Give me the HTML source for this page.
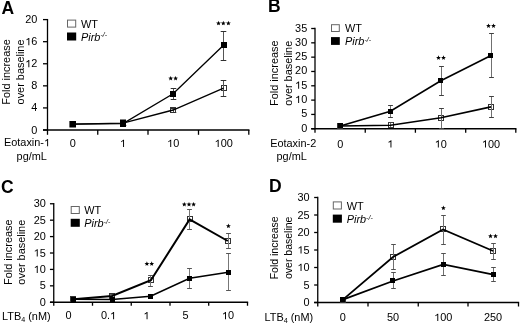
<!DOCTYPE html>
<html><head><meta charset="utf-8"><style>
html,body{margin:0;padding:0;background:#fff;}
body{width:520px;height:325px;overflow:hidden;}
svg{display:block;filter:blur(0.3px);font-family:"Liberation Sans",sans-serif;fill:#000;}
</style></head><body>
<svg width="520" height="325" viewBox="0 0 520 325">
<rect width="520" height="325" fill="#fff"/>
<line x1="47.5" y1="18.950000000000003" x2="47.5" y2="134.8" stroke="#000" stroke-width="1.3" stroke-linecap="butt"/>
<line x1="43.0" y1="130" x2="249.45000000000002" y2="130" stroke="#000" stroke-width="1.3" stroke-linecap="butt"/>
<line x1="43.0" y1="130.0" x2="47.5" y2="130.0" stroke="#000" stroke-width="1.3" stroke-linecap="butt"/>
<text transform="matrix(1.03,0,0,1,31.33,133.5)" font-size="10.6" >0</text>
<line x1="43.0" y1="107.92" x2="47.5" y2="107.92" stroke="#000" stroke-width="1.3" stroke-linecap="butt"/>
<text transform="matrix(1.03,0,0,1,31.33,111.42)" font-size="10.6" >4</text>
<line x1="43.0" y1="85.84" x2="47.5" y2="85.84" stroke="#000" stroke-width="1.3" stroke-linecap="butt"/>
<text transform="matrix(1.03,0,0,1,31.33,89.34)" font-size="10.6" >8</text>
<line x1="43.0" y1="63.760000000000005" x2="47.5" y2="63.760000000000005" stroke="#000" stroke-width="1.3" stroke-linecap="butt"/>
<text transform="matrix(1.03,0,0,1,25.26,67.26)" font-size="10.6" > 2</text>
<polygon points="29.32,67.26 28.36,67.26 28.36,61.32 27.60,61.88 26.44,62.41 26.44,61.50 27.49,60.89 28.24,60.30 28.73,59.97 29.32,59.97" fill="#000"/>
<line x1="43.0" y1="41.68000000000001" x2="47.5" y2="41.68000000000001" stroke="#000" stroke-width="1.3" stroke-linecap="butt"/>
<text transform="matrix(1.03,0,0,1,25.26,45.18000000000001)" font-size="10.6" > 6</text>
<polygon points="29.32,45.18 28.36,45.18 28.36,39.24 27.60,39.80 26.44,40.33 26.44,39.42 27.49,38.81 28.24,38.22 28.73,37.89 29.32,37.89" fill="#000"/>
<line x1="43.0" y1="19.60000000000001" x2="47.5" y2="19.60000000000001" stroke="#000" stroke-width="1.3" stroke-linecap="butt"/>
<text transform="matrix(1.03,0,0,1,25.26,23.10000000000001)" font-size="10.6" >20</text>
<line x1="97.75" y1="130" x2="97.75" y2="134.8" stroke="#000" stroke-width="1.3" stroke-linecap="butt"/>
<line x1="148" y1="130" x2="148" y2="134.8" stroke="#000" stroke-width="1.3" stroke-linecap="butt"/>
<line x1="198.5" y1="130" x2="198.5" y2="134.8" stroke="#000" stroke-width="1.3" stroke-linecap="butt"/>
<line x1="248.8" y1="130" x2="248.8" y2="134.8" stroke="#000" stroke-width="1.3" stroke-linecap="butt"/>
<text transform="matrix(1.03,0,0,1,69.66,147)" font-size="10.6" >0</text>
<text transform="matrix(1.03,0,0,1,119.96,147)" font-size="10.6" > </text>
<polygon points="124.03,147.00 123.07,147.00 123.07,141.06 122.31,141.62 121.15,142.15 121.15,141.24 122.20,140.63 122.95,140.04 123.43,139.71 124.03,139.71" fill="#000"/>
<text transform="matrix(1.03,0,0,1,167.13,147)" font-size="10.6" > 0</text>
<polygon points="171.20,147.00 170.24,147.00 170.24,141.06 169.47,141.62 168.32,142.15 168.32,141.24 169.37,140.63 170.11,140.04 170.60,139.71 171.20,139.71" fill="#000"/>
<text transform="matrix(1.03,0,0,1,214.59,147)" font-size="10.6" > 00</text>
<polygon points="218.66,147.00 217.70,147.00 217.70,141.06 216.94,141.62 215.78,142.15 215.78,141.24 216.83,140.63 217.58,140.04 218.06,139.71 218.66,139.71" fill="#000"/>
<text transform="matrix(1.0,0,0,1,1.50,13.5)" font-size="17.5" text-anchor="start" font-weight="bold" font-style="normal" >A</text>
<text font-size="10.6" text-anchor="middle" transform="translate(9.6,72) rotate(-90) scale(1.03,1)">Fold increase</text>
<text font-size="10.6" text-anchor="middle" transform="translate(23.8,72) rotate(-90) scale(1.03,1)">over baseline</text>
<text transform="matrix(1.03,0,0,1,3.98,146.3)" font-size="10.6" >Eotaxin- </text>
<polygon points="48.10,146.30 47.14,146.30 47.14,140.36 46.37,140.92 45.22,141.45 45.22,140.54 46.27,139.93 47.01,139.34 47.50,139.01 48.10,139.01" fill="#000"/>
<text transform="matrix(1.03,0,0,1,16.56,159.8)" font-size="10.6" >pg/mL</text>
<rect x="67.5" y="20.1" width="8.2" height="7" fill="#fff" stroke="#666" stroke-width="1"/>
<rect x="67" y="32.5" width="9.2" height="8" fill="#000"/>
<text transform="matrix(1.03,0,0,1,81.00,27.6)" font-size="10.6" >WT</text>
<text transform="matrix(1.03,0,0,1,81,40.5)" font-size="10.6" font-style="italic">Pirb<tspan font-size="6.8" dy="-3.3">-/-</tspan></text>
<rect x="70.5" y="121.5" width="5" height="5" fill="none" stroke="#333" stroke-width="1"/>
<rect x="120.5" y="120.5" width="5" height="5" fill="none" stroke="#333" stroke-width="1"/>
<rect x="170.5" y="107.5" width="5" height="5" fill="none" stroke="#333" stroke-width="1"/>
<rect x="221.5" y="85.5" width="5" height="5" fill="none" stroke="#333" stroke-width="1"/>
<line x1="173.5" y1="88.5" x2="173.5" y2="99.5" stroke="#555" stroke-width="1.0" stroke-linecap="butt"/>
<line x1="170.7" y1="88.5" x2="176.3" y2="88.5" stroke="#303030" stroke-width="1.0" stroke-linecap="butt"/>
<line x1="170.7" y1="99.5" x2="176.3" y2="99.5" stroke="#303030" stroke-width="1.0" stroke-linecap="butt"/>
<line x1="223.5" y1="31.5" x2="223.5" y2="60.5" stroke="#555" stroke-width="1.0" stroke-linecap="butt"/>
<line x1="220.7" y1="31.5" x2="226.3" y2="31.5" stroke="#303030" stroke-width="1.0" stroke-linecap="butt"/>
<line x1="220.7" y1="60.5" x2="226.3" y2="60.5" stroke="#303030" stroke-width="1.0" stroke-linecap="butt"/>
<line x1="223.5" y1="80.5" x2="223.5" y2="96.5" stroke="#555" stroke-width="1.0" stroke-linecap="butt"/>
<line x1="220.7" y1="80.5" x2="226.3" y2="80.5" stroke="#303030" stroke-width="1.0" stroke-linecap="butt"/>
<line x1="220.7" y1="96.5" x2="226.3" y2="96.5" stroke="#303030" stroke-width="1.0" stroke-linecap="butt"/>
<line x1="173.5" y1="108.5" x2="173.5" y2="112.5" stroke="#555" stroke-width="1.0" stroke-linecap="butt"/>
<line x1="170.7" y1="108.5" x2="176.3" y2="108.5" stroke="#303030" stroke-width="1.0" stroke-linecap="butt"/>
<line x1="170.7" y1="112.5" x2="176.3" y2="112.5" stroke="#303030" stroke-width="1.0" stroke-linecap="butt"/>
<line x1="123.5" y1="121.5" x2="123.5" y2="125.5" stroke="#555" stroke-width="1.0" stroke-linecap="butt"/>
<line x1="120.7" y1="121.5" x2="126.3" y2="121.5" stroke="#303030" stroke-width="1.0" stroke-linecap="butt"/>
<line x1="120.7" y1="125.5" x2="126.3" y2="125.5" stroke="#303030" stroke-width="1.0" stroke-linecap="butt"/>
<polyline points="72.7,124.2 123,123.2 173.1,110 223.6,88.1" fill="none" stroke="#000" stroke-width="1.35" stroke-linejoin="miter"/>
<polyline points="72.7,124.2 123,123.6 173.1,93.75 223.75,45" fill="none" stroke="#000" stroke-width="1.35" stroke-linejoin="miter"/>
<rect x="70" y="121" width="6" height="6" fill="#000"/>
<rect x="120" y="121" width="6" height="6" fill="#000"/>
<rect x="170" y="91" width="6" height="6" fill="#000"/>
<rect x="221" y="42" width="6" height="6" fill="#000"/>
<rect x="120" y="119.5" width="6" height="7.5" fill="#000"/>
<rect x="69.4" y="121" width="6.6" height="6.5" fill="#000"/>
<polygon points="170.70,76.00 171.35,77.61 173.08,77.73 171.75,78.84 172.17,80.52 170.70,79.60 169.23,80.52 169.65,78.84 168.32,77.73 170.05,77.61" fill="#000"/>
<polygon points="175.60,76.00 176.25,77.61 177.98,77.73 176.65,78.84 177.07,80.52 175.60,79.60 174.13,80.52 174.55,78.84 173.22,77.73 174.95,77.61" fill="#000"/>
<polygon points="218.50,20.80 219.15,22.41 220.88,22.53 219.55,23.64 219.97,25.32 218.50,24.40 217.03,25.32 217.45,23.64 216.12,22.53 217.85,22.41" fill="#000"/>
<polygon points="223.30,20.80 223.95,22.41 225.68,22.53 224.35,23.64 224.77,25.32 223.30,24.40 221.83,25.32 222.25,23.64 220.92,22.53 222.65,22.41" fill="#000"/>
<polygon points="228.40,20.80 229.05,22.41 230.78,22.53 229.45,23.64 229.87,25.32 228.40,24.40 226.93,25.32 227.35,23.64 226.02,22.53 227.75,22.41" fill="#000"/>
<line x1="315" y1="27.85" x2="315" y2="132.75" stroke="#000" stroke-width="1.3" stroke-linecap="butt"/>
<line x1="311.2" y1="128.75" x2="516.4499999999999" y2="128.75" stroke="#000" stroke-width="1.3" stroke-linecap="butt"/>
<line x1="311.2" y1="128.75" x2="315" y2="128.75" stroke="#000" stroke-width="1.3" stroke-linecap="butt"/>
<text transform="matrix(1.03,0,0,1,301.13,131.75)" font-size="10.6" >0</text>
<line x1="311.2" y1="114.43" x2="315" y2="114.43" stroke="#000" stroke-width="1.3" stroke-linecap="butt"/>
<text transform="matrix(1.03,0,0,1,301.13,117.43)" font-size="10.6" >5</text>
<line x1="311.2" y1="100.11" x2="315" y2="100.11" stroke="#000" stroke-width="1.3" stroke-linecap="butt"/>
<text transform="matrix(1.03,0,0,1,295.06,103.11)" font-size="10.6" > 0</text>
<polygon points="299.12,103.11 298.16,103.11 298.16,97.17 297.40,97.73 296.24,98.26 296.24,97.35 297.29,96.74 298.04,96.15 298.53,95.82 299.12,95.82" fill="#000"/>
<line x1="311.2" y1="85.78999999999999" x2="315" y2="85.78999999999999" stroke="#000" stroke-width="1.3" stroke-linecap="butt"/>
<text transform="matrix(1.03,0,0,1,295.06,88.78999999999999)" font-size="10.6" > 5</text>
<polygon points="299.12,88.79 298.16,88.79 298.16,82.85 297.40,83.41 296.24,83.94 296.24,83.03 297.29,82.42 298.04,81.83 298.53,81.50 299.12,81.50" fill="#000"/>
<line x1="311.2" y1="71.47" x2="315" y2="71.47" stroke="#000" stroke-width="1.3" stroke-linecap="butt"/>
<text transform="matrix(1.03,0,0,1,295.06,74.47)" font-size="10.6" >20</text>
<line x1="311.2" y1="57.150000000000006" x2="315" y2="57.150000000000006" stroke="#000" stroke-width="1.3" stroke-linecap="butt"/>
<text transform="matrix(1.03,0,0,1,295.06,60.150000000000006)" font-size="10.6" >25</text>
<line x1="311.2" y1="42.83" x2="315" y2="42.83" stroke="#000" stroke-width="1.3" stroke-linecap="butt"/>
<text transform="matrix(1.03,0,0,1,295.06,45.83)" font-size="10.6" >30</text>
<line x1="311.2" y1="28.510000000000005" x2="315" y2="28.510000000000005" stroke="#000" stroke-width="1.3" stroke-linecap="butt"/>
<text transform="matrix(1.03,0,0,1,295.06,31.510000000000005)" font-size="10.6" >35</text>
<line x1="365.25" y1="128.75" x2="365.25" y2="132.75" stroke="#000" stroke-width="1.3" stroke-linecap="butt"/>
<line x1="415.4" y1="128.75" x2="415.4" y2="132.75" stroke="#000" stroke-width="1.3" stroke-linecap="butt"/>
<line x1="465.7" y1="128.75" x2="465.7" y2="132.75" stroke="#000" stroke-width="1.3" stroke-linecap="butt"/>
<line x1="515.8" y1="128.75" x2="515.8" y2="132.75" stroke="#000" stroke-width="1.3" stroke-linecap="butt"/>
<text transform="matrix(1.03,0,0,1,337.26,147.6)" font-size="10.6" >0</text>
<text transform="matrix(1.03,0,0,1,387.36,147.6)" font-size="10.6" > </text>
<polygon points="391.43,147.60 390.47,147.60 390.47,141.66 389.71,142.22 388.55,142.75 388.55,141.84 389.60,141.23 390.35,140.64 390.83,140.31 391.43,140.31" fill="#000"/>
<text transform="matrix(1.03,0,0,1,434.73,147.6)" font-size="10.6" > 0</text>
<polygon points="438.80,147.60 437.84,147.60 437.84,141.66 437.07,142.22 435.92,142.75 435.92,141.84 436.97,141.23 437.71,140.64 438.20,140.31 438.80,140.31" fill="#000"/>
<text transform="matrix(1.03,0,0,1,481.89,147.6)" font-size="10.6" > 00</text>
<polygon points="485.96,147.60 485.00,147.60 485.00,141.66 484.24,142.22 483.08,142.75 483.08,141.84 484.13,141.23 484.88,140.64 485.36,140.31 485.96,140.31" fill="#000"/>
<text transform="matrix(1.0,0,0,1,268.10,12.2)" font-size="17.5" text-anchor="start" font-weight="bold" font-style="normal" >B</text>
<text font-size="10.6" text-anchor="middle" transform="translate(278.2,73.2) rotate(-90) scale(1.03,1)">Fold increase</text>
<text font-size="10.6" text-anchor="middle" transform="translate(291.7,73.2) rotate(-90) scale(1.03,1)">over baseline</text>
<text transform="matrix(1.03,0,0,1,270.14,146.9)" font-size="10.6" >Eotaxin-2</text>
<text transform="matrix(1.03,0,0,1,276.53,159.7)" font-size="10.6" >pg/mL</text>
<rect x="331.5" y="24.7" width="7.800000000000001" height="6.8" fill="#fff" stroke="#666" stroke-width="1"/>
<rect x="331" y="37.1" width="8.8" height="7.8" fill="#000"/>
<text transform="matrix(1.03,0,0,1,345.00,32.0)" font-size="10.6" >WT</text>
<text transform="matrix(1.03,0,0,1,345,44.9)" font-size="10.6" font-style="italic">Pirb<tspan font-size="6.8" dy="-3.3">-/-</tspan></text>
<rect x="337.5" y="123.5" width="5" height="5" fill="none" stroke="#333" stroke-width="1"/>
<rect x="388.5" y="122.5" width="5" height="5" fill="none" stroke="#333" stroke-width="1"/>
<rect x="438.5" y="115.5" width="5" height="5" fill="none" stroke="#333" stroke-width="1"/>
<rect x="488.5" y="104.5" width="5" height="5" fill="none" stroke="#333" stroke-width="1"/>
<line x1="390.5" y1="105.5" x2="390.5" y2="117.5" stroke="#707070" stroke-width="1.0" stroke-linecap="butt"/>
<line x1="388.1" y1="105.5" x2="392.9" y2="105.5" stroke="#404040" stroke-width="1.0" stroke-linecap="butt"/>
<line x1="388.1" y1="117.5" x2="392.9" y2="117.5" stroke="#404040" stroke-width="1.0" stroke-linecap="butt"/>
<line x1="441.5" y1="66.5" x2="441.5" y2="95.5" stroke="#707070" stroke-width="1.0" stroke-linecap="butt"/>
<line x1="439.1" y1="66.5" x2="443.9" y2="66.5" stroke="#404040" stroke-width="1.0" stroke-linecap="butt"/>
<line x1="439.1" y1="95.5" x2="443.9" y2="95.5" stroke="#404040" stroke-width="1.0" stroke-linecap="butt"/>
<line x1="491.5" y1="33.5" x2="491.5" y2="77.5" stroke="#707070" stroke-width="1.0" stroke-linecap="butt"/>
<line x1="489.1" y1="33.5" x2="493.9" y2="33.5" stroke="#404040" stroke-width="1.0" stroke-linecap="butt"/>
<line x1="489.1" y1="77.5" x2="493.9" y2="77.5" stroke="#404040" stroke-width="1.0" stroke-linecap="butt"/>
<line x1="390.5" y1="122.5" x2="390.5" y2="127.5" stroke="#707070" stroke-width="1.0" stroke-linecap="butt"/>
<line x1="388.1" y1="122.5" x2="392.9" y2="122.5" stroke="#404040" stroke-width="1.0" stroke-linecap="butt"/>
<line x1="388.1" y1="127.5" x2="392.9" y2="127.5" stroke="#404040" stroke-width="1.0" stroke-linecap="butt"/>
<line x1="441.5" y1="108.5" x2="441.5" y2="128.5" stroke="#707070" stroke-width="1.0" stroke-linecap="butt"/>
<line x1="439.1" y1="108.5" x2="443.9" y2="108.5" stroke="#404040" stroke-width="1.0" stroke-linecap="butt"/>
<line x1="439.1" y1="128.5" x2="443.9" y2="128.5" stroke="#404040" stroke-width="1.0" stroke-linecap="butt"/>
<line x1="491.5" y1="96.5" x2="491.5" y2="117.5" stroke="#707070" stroke-width="1.0" stroke-linecap="butt"/>
<line x1="489.1" y1="96.5" x2="493.9" y2="96.5" stroke="#404040" stroke-width="1.0" stroke-linecap="butt"/>
<line x1="489.1" y1="117.5" x2="493.9" y2="117.5" stroke="#404040" stroke-width="1.0" stroke-linecap="butt"/>
<polyline points="340.3,126 390.5,125.2 440.9,117.8 491,106.9" fill="none" stroke="#000" stroke-width="1.6" stroke-linejoin="miter"/>
<polyline points="340.3,125.9 390.4,111.25 440.8,80.8 491,55.45" fill="none" stroke="#000" stroke-width="1.6" stroke-linejoin="miter"/>
<rect x="338" y="123" width="5" height="5" fill="#000"/>
<rect x="388" y="109" width="5" height="5" fill="#000"/>
<rect x="438" y="78" width="5" height="5" fill="#000"/>
<rect x="488" y="53" width="5" height="5" fill="#000"/>
<polygon points="438.50,55.30 439.15,56.91 440.88,57.03 439.55,58.14 439.97,59.82 438.50,58.90 437.03,59.82 437.45,58.14 436.12,57.03 437.85,56.91" fill="#000"/>
<polygon points="443.50,55.30 444.15,56.91 445.88,57.03 444.55,58.14 444.97,59.82 443.50,58.90 442.03,59.82 442.45,58.14 441.12,57.03 442.85,56.91" fill="#000"/>
<polygon points="488.50,23.50 489.15,25.11 490.88,25.23 489.55,26.34 489.97,28.02 488.50,27.10 487.03,28.02 487.45,26.34 486.12,25.23 487.85,25.11" fill="#000"/>
<polygon points="493.50,23.50 494.15,25.11 495.88,25.23 494.55,26.34 494.97,28.02 493.50,27.10 492.03,28.02 492.45,26.34 491.12,25.23 492.85,25.11" fill="#000"/>
<line x1="53.75" y1="203.1" x2="53.75" y2="305.75" stroke="#000" stroke-width="1.3" stroke-linecap="butt"/>
<line x1="49.95" y1="302.25" x2="248.15" y2="302.25" stroke="#000" stroke-width="1.3" stroke-linecap="butt"/>
<line x1="49.95" y1="302.25" x2="53.75" y2="302.25" stroke="#000" stroke-width="1.3" stroke-linecap="butt"/>
<text transform="matrix(1.03,0,0,1,39.73,305.75)" font-size="10.6" >0</text>
<line x1="49.95" y1="285.835" x2="53.75" y2="285.835" stroke="#000" stroke-width="1.3" stroke-linecap="butt"/>
<text transform="matrix(1.03,0,0,1,39.73,289.335)" font-size="10.6" >5</text>
<line x1="49.95" y1="269.42" x2="53.75" y2="269.42" stroke="#000" stroke-width="1.3" stroke-linecap="butt"/>
<text transform="matrix(1.03,0,0,1,33.66,272.92)" font-size="10.6" > 0</text>
<polygon points="37.72,272.92 36.76,272.92 36.76,266.98 36.00,267.54 34.84,268.07 34.84,267.16 35.89,266.55 36.64,265.96 37.13,265.63 37.72,265.63" fill="#000"/>
<line x1="49.95" y1="253.005" x2="53.75" y2="253.005" stroke="#000" stroke-width="1.3" stroke-linecap="butt"/>
<text transform="matrix(1.03,0,0,1,33.66,256.505)" font-size="10.6" > 5</text>
<polygon points="37.72,256.50 36.76,256.50 36.76,250.57 36.00,251.12 34.84,251.65 34.84,250.75 35.89,250.14 36.64,249.54 37.13,249.21 37.72,249.21" fill="#000"/>
<line x1="49.95" y1="236.59" x2="53.75" y2="236.59" stroke="#000" stroke-width="1.3" stroke-linecap="butt"/>
<text transform="matrix(1.03,0,0,1,33.66,240.09)" font-size="10.6" >20</text>
<line x1="49.95" y1="220.175" x2="53.75" y2="220.175" stroke="#000" stroke-width="1.3" stroke-linecap="butt"/>
<text transform="matrix(1.03,0,0,1,33.66,223.675)" font-size="10.6" >25</text>
<line x1="49.95" y1="203.76" x2="53.75" y2="203.76" stroke="#000" stroke-width="1.3" stroke-linecap="butt"/>
<text transform="matrix(1.03,0,0,1,33.66,207.26)" font-size="10.6" >30</text>
<line x1="92.5" y1="302.25" x2="92.5" y2="305.75" stroke="#000" stroke-width="1.3" stroke-linecap="butt"/>
<line x1="131.25" y1="302.25" x2="131.25" y2="305.75" stroke="#000" stroke-width="1.3" stroke-linecap="butt"/>
<line x1="170" y1="302.25" x2="170" y2="305.75" stroke="#000" stroke-width="1.3" stroke-linecap="butt"/>
<line x1="208.7" y1="302.25" x2="208.7" y2="305.75" stroke="#000" stroke-width="1.3" stroke-linecap="butt"/>
<line x1="247.5" y1="302.25" x2="247.5" y2="305.75" stroke="#000" stroke-width="1.3" stroke-linecap="butt"/>
<text transform="matrix(1.03,0,0,1,65.46,319.3)" font-size="10.6" >0</text>
<text transform="matrix(1.03,0,0,1,100.91,319.3)" font-size="10.6" >0. </text>
<polygon points="114.08,319.30 113.12,319.30 113.12,313.36 112.36,313.92 111.21,314.45 111.21,313.54 112.26,312.93 113.00,312.34 113.49,312.01 114.08,312.01" fill="#000"/>
<text transform="matrix(1.03,0,0,1,143.46,319.3)" font-size="10.6" > </text>
<polygon points="147.53,319.30 146.57,319.30 146.57,313.36 145.81,313.92 144.65,314.45 144.65,313.54 145.70,312.93 146.45,312.34 146.93,312.01 147.53,312.01" fill="#000"/>
<text transform="matrix(1.03,0,0,1,182.56,319.3)" font-size="10.6" >5</text>
<text transform="matrix(1.03,0,0,1,221.93,319.3)" font-size="10.6" > 0</text>
<polygon points="226.00,319.30 225.04,319.30 225.04,313.36 224.27,313.92 223.12,314.45 223.12,313.54 224.17,312.93 224.91,312.34 225.40,312.01 226.00,312.01" fill="#000"/>
<text transform="matrix(1.0,0,0,1,1.00,193)" font-size="17.5" text-anchor="start" font-weight="bold" font-style="normal" >C</text>
<text font-size="10.6" text-anchor="middle" transform="translate(12,252.2) rotate(-90) scale(1.03,1)">Fold increase</text>
<text font-size="10.6" text-anchor="middle" transform="translate(25.2,252.2) rotate(-90) scale(1.03,1)">over baseline</text>
<text transform="matrix(1.03,0,0,1,2.00,320)" font-size="10.6" text-anchor="start" font-weight="normal" font-style="normal" >LTB<tspan font-size="7" dy="2">4</tspan><tspan dy="-2"> (nM)</tspan></text>
<rect x="71.2" y="206.5" width="8.1" height="7" fill="#fff" stroke="#666" stroke-width="1"/>
<rect x="70.7" y="218.8" width="9.1" height="8" fill="#000"/>
<text transform="matrix(1.03,0,0,1,84.20,214)" font-size="10.6" >WT</text>
<text transform="matrix(1.03,0,0,1,84.2,226.8)" font-size="10.6" font-style="italic">Pirb<tspan font-size="6.8" dy="-3.3">-/-</tspan></text>
<rect x="70.5" y="296.5" width="5" height="5" fill="none" stroke="#333" stroke-width="1"/>
<rect x="109.5" y="293.5" width="5" height="5" fill="none" stroke="#333" stroke-width="1"/>
<rect x="148.5" y="277.5" width="5" height="5" fill="none" stroke="#333" stroke-width="1"/>
<rect x="187.5" y="216.5" width="5" height="5" fill="none" stroke="#333" stroke-width="1"/>
<rect x="225.5" y="238.5" width="5" height="5" fill="none" stroke="#333" stroke-width="1"/>
<line x1="150.5" y1="275.5" x2="150.5" y2="286.5" stroke="#777" stroke-width="1.0" stroke-linecap="butt"/>
<line x1="148.1" y1="275.5" x2="152.9" y2="275.5" stroke="#555" stroke-width="1.0" stroke-linecap="butt"/>
<line x1="148.1" y1="286.5" x2="152.9" y2="286.5" stroke="#555" stroke-width="1.0" stroke-linecap="butt"/>
<line x1="189.5" y1="209.5" x2="189.5" y2="229.5" stroke="#777" stroke-width="1.0" stroke-linecap="butt"/>
<line x1="187.1" y1="209.5" x2="191.9" y2="209.5" stroke="#555" stroke-width="1.0" stroke-linecap="butt"/>
<line x1="187.1" y1="229.5" x2="191.9" y2="229.5" stroke="#555" stroke-width="1.0" stroke-linecap="butt"/>
<line x1="228.5" y1="233.5" x2="228.5" y2="248.5" stroke="#777" stroke-width="1.0" stroke-linecap="butt"/>
<line x1="226.1" y1="233.5" x2="230.9" y2="233.5" stroke="#555" stroke-width="1.0" stroke-linecap="butt"/>
<line x1="226.1" y1="248.5" x2="230.9" y2="248.5" stroke="#555" stroke-width="1.0" stroke-linecap="butt"/>
<line x1="189.5" y1="268.5" x2="189.5" y2="288.5" stroke="#777" stroke-width="1.0" stroke-linecap="butt"/>
<line x1="187.1" y1="268.5" x2="191.9" y2="268.5" stroke="#555" stroke-width="1.0" stroke-linecap="butt"/>
<line x1="187.1" y1="288.5" x2="191.9" y2="288.5" stroke="#555" stroke-width="1.0" stroke-linecap="butt"/>
<line x1="228.5" y1="253.5" x2="228.5" y2="290.5" stroke="#777" stroke-width="1.0" stroke-linecap="butt"/>
<line x1="226.1" y1="253.5" x2="230.9" y2="253.5" stroke="#555" stroke-width="1.0" stroke-linecap="butt"/>
<line x1="226.1" y1="290.5" x2="230.9" y2="290.5" stroke="#555" stroke-width="1.0" stroke-linecap="butt"/>
<line x1="150.5" y1="294.5" x2="150.5" y2="298.5" stroke="#777" stroke-width="1.0" stroke-linecap="butt"/>
<line x1="148.1" y1="294.5" x2="152.9" y2="294.5" stroke="#555" stroke-width="1.0" stroke-linecap="butt"/>
<line x1="148.1" y1="298.5" x2="152.9" y2="298.5" stroke="#555" stroke-width="1.0" stroke-linecap="butt"/>
<line x1="112.5" y1="294.5" x2="112.5" y2="298.5" stroke="#777" stroke-width="1.0" stroke-linecap="butt"/>
<line x1="110.1" y1="294.5" x2="114.9" y2="294.5" stroke="#555" stroke-width="1.0" stroke-linecap="butt"/>
<line x1="110.1" y1="298.5" x2="114.9" y2="298.5" stroke="#555" stroke-width="1.0" stroke-linecap="butt"/>
<polyline points="73.4,299.3 112,296 150.9,280.3 189.6,219.4 227.8,241" fill="none" stroke="#000" stroke-width="2.0" stroke-linejoin="miter"/>
<polyline points="73.4,299.3 112,299.5 150.6,296.25 189.6,278.3 228.3,272.2" fill="none" stroke="#000" stroke-width="1.6" stroke-linejoin="miter"/>
<rect x="71" y="297" width="5" height="5" fill="#000"/>
<rect x="110" y="297" width="5" height="5" fill="#000"/>
<rect x="148" y="294" width="5" height="5" fill="#000"/>
<rect x="187" y="276" width="5" height="5" fill="#000"/>
<rect x="226" y="270" width="5" height="5" fill="#000"/>
<polygon points="146.90,261.30 147.55,262.91 149.28,263.03 147.95,264.14 148.37,265.82 146.90,264.90 145.43,265.82 145.85,264.14 144.52,263.03 146.25,262.91" fill="#000"/>
<polygon points="151.70,261.30 152.35,262.91 154.08,263.03 152.75,264.14 153.17,265.82 151.70,264.90 150.23,265.82 150.65,264.14 149.32,263.03 151.05,262.91" fill="#000"/>
<polygon points="184.30,202.00 184.95,203.61 186.68,203.73 185.35,204.84 185.77,206.52 184.30,205.60 182.83,206.52 183.25,204.84 181.92,203.73 183.65,203.61" fill="#000"/>
<polygon points="189.00,202.00 189.65,203.61 191.38,203.73 190.05,204.84 190.47,206.52 189.00,205.60 187.53,206.52 187.95,204.84 186.62,203.73 188.35,203.61" fill="#000"/>
<polygon points="193.60,202.00 194.25,203.61 195.98,203.73 194.65,204.84 195.07,206.52 193.60,205.60 192.13,206.52 192.55,204.84 191.22,203.73 192.95,203.61" fill="#000"/>
<polygon points="228.40,223.60 229.05,225.21 230.78,225.33 229.45,226.44 229.87,228.12 228.40,227.20 226.93,228.12 227.35,226.44 226.02,225.33 227.75,225.21" fill="#000"/>
<line x1="317.75" y1="196.85" x2="317.75" y2="306.5" stroke="#000" stroke-width="1.3" stroke-linecap="butt"/>
<line x1="314.15" y1="302.5" x2="519.15" y2="302.5" stroke="#000" stroke-width="1.3" stroke-linecap="butt"/>
<line x1="314.15" y1="302.5" x2="317.75" y2="302.5" stroke="#000" stroke-width="1.3" stroke-linecap="butt"/>
<text transform="matrix(1.03,0,0,1,303.53,306.0)" font-size="10.6" >0</text>
<line x1="314.15" y1="285.0" x2="317.75" y2="285.0" stroke="#000" stroke-width="1.3" stroke-linecap="butt"/>
<text transform="matrix(1.03,0,0,1,303.53,288.5)" font-size="10.6" >5</text>
<line x1="314.15" y1="267.5" x2="317.75" y2="267.5" stroke="#000" stroke-width="1.3" stroke-linecap="butt"/>
<text transform="matrix(1.03,0,0,1,297.46,271.0)" font-size="10.6" > 0</text>
<polygon points="301.52,271.00 300.56,271.00 300.56,265.06 299.80,265.62 298.64,266.15 298.64,265.24 299.69,264.63 300.44,264.04 300.93,263.71 301.52,263.71" fill="#000"/>
<line x1="314.15" y1="250.0" x2="317.75" y2="250.0" stroke="#000" stroke-width="1.3" stroke-linecap="butt"/>
<text transform="matrix(1.03,0,0,1,297.46,253.5)" font-size="10.6" > 5</text>
<polygon points="301.52,253.50 300.56,253.50 300.56,247.56 299.80,248.12 298.64,248.65 298.64,247.74 299.69,247.13 300.44,246.54 300.93,246.21 301.52,246.21" fill="#000"/>
<line x1="314.15" y1="232.5" x2="317.75" y2="232.5" stroke="#000" stroke-width="1.3" stroke-linecap="butt"/>
<text transform="matrix(1.03,0,0,1,297.46,236.0)" font-size="10.6" >20</text>
<line x1="314.15" y1="215.0" x2="317.75" y2="215.0" stroke="#000" stroke-width="1.3" stroke-linecap="butt"/>
<text transform="matrix(1.03,0,0,1,297.46,218.5)" font-size="10.6" >25</text>
<line x1="314.15" y1="197.5" x2="317.75" y2="197.5" stroke="#000" stroke-width="1.3" stroke-linecap="butt"/>
<text transform="matrix(1.03,0,0,1,297.46,201.0)" font-size="10.6" >30</text>
<line x1="368" y1="302.5" x2="368" y2="306.5" stroke="#000" stroke-width="1.3" stroke-linecap="butt"/>
<line x1="418.25" y1="302.5" x2="418.25" y2="306.5" stroke="#000" stroke-width="1.3" stroke-linecap="butt"/>
<line x1="468" y1="302.5" x2="468" y2="306.5" stroke="#000" stroke-width="1.3" stroke-linecap="butt"/>
<line x1="518.5" y1="302.5" x2="518.5" y2="306.5" stroke="#000" stroke-width="1.3" stroke-linecap="butt"/>
<text transform="matrix(1.03,0,0,1,339.86,321)" font-size="10.6" >0</text>
<text transform="matrix(1.03,0,0,1,387.03,321)" font-size="10.6" >50</text>
<text transform="matrix(1.03,0,0,1,434.19,321)" font-size="10.6" > 00</text>
<polygon points="438.26,321.00 437.30,321.00 437.30,315.06 436.54,315.62 435.38,316.15 435.38,315.24 436.43,314.63 437.18,314.04 437.66,313.71 438.26,313.71" fill="#000"/>
<text transform="matrix(1.03,0,0,1,483.89,321)" font-size="10.6" >250</text>
<text transform="matrix(1.0,0,0,1,269.00,192)" font-size="17.5" text-anchor="start" font-weight="bold" font-style="normal" >D</text>
<text font-size="10.2" text-anchor="middle" transform="translate(278.1,247.8) rotate(-90) scale(1.03,1)">Fold increase</text>
<text font-size="10.2" text-anchor="middle" transform="translate(291.8,247.8) rotate(-90) scale(1.03,1)">over baseline</text>
<text transform="matrix(1.03,0,0,1,264.50,320.8)" font-size="10.6" text-anchor="start" font-weight="normal" font-style="normal" >LTB<tspan font-size="7" dy="2">4</tspan><tspan dy="-2"> (nM)</tspan></text>
<rect x="333.3" y="201.9" width="8.1" height="7.1" fill="#fff" stroke="#666" stroke-width="1"/>
<rect x="332.8" y="214.6" width="9.1" height="8.1" fill="#000"/>
<text transform="matrix(1.03,0,0,1,346.70,210.1)" font-size="10.6" >WT</text>
<text transform="matrix(1.03,0,0,1,346.7,223.29999999999998)" font-size="10.6" font-style="italic">Pirb<tspan font-size="6.8" dy="-3.3">-/-</tspan></text>
<rect x="340.5" y="297.5" width="5" height="5" fill="none" stroke="#333" stroke-width="1"/>
<rect x="390.5" y="254.5" width="5" height="5" fill="none" stroke="#333" stroke-width="1"/>
<rect x="440.5" y="226.5" width="5" height="5" fill="none" stroke="#333" stroke-width="1"/>
<rect x="490.5" y="248.5" width="5" height="5" fill="none" stroke="#333" stroke-width="1"/>
<line x1="393.5" y1="244.5" x2="393.5" y2="269.5" stroke="#707070" stroke-width="1.0" stroke-linecap="butt"/>
<line x1="391.2" y1="244.5" x2="395.8" y2="244.5" stroke="#505050" stroke-width="1.0" stroke-linecap="butt"/>
<line x1="391.2" y1="269.5" x2="395.8" y2="269.5" stroke="#505050" stroke-width="1.0" stroke-linecap="butt"/>
<line x1="443.5" y1="215.5" x2="443.5" y2="244.5" stroke="#707070" stroke-width="1.0" stroke-linecap="butt"/>
<line x1="441.2" y1="215.5" x2="445.8" y2="215.5" stroke="#505050" stroke-width="1.0" stroke-linecap="butt"/>
<line x1="441.2" y1="244.5" x2="445.8" y2="244.5" stroke="#505050" stroke-width="1.0" stroke-linecap="butt"/>
<line x1="493.5" y1="243.5" x2="493.5" y2="259.5" stroke="#707070" stroke-width="1.0" stroke-linecap="butt"/>
<line x1="491.2" y1="243.5" x2="495.8" y2="243.5" stroke="#505050" stroke-width="1.0" stroke-linecap="butt"/>
<line x1="491.2" y1="259.5" x2="495.8" y2="259.5" stroke="#505050" stroke-width="1.0" stroke-linecap="butt"/>
<line x1="393.5" y1="272.5" x2="393.5" y2="288.5" stroke="#707070" stroke-width="1.0" stroke-linecap="butt"/>
<line x1="391.2" y1="272.5" x2="395.8" y2="272.5" stroke="#505050" stroke-width="1.0" stroke-linecap="butt"/>
<line x1="391.2" y1="288.5" x2="395.8" y2="288.5" stroke="#505050" stroke-width="1.0" stroke-linecap="butt"/>
<line x1="443.5" y1="253.5" x2="443.5" y2="275.5" stroke="#707070" stroke-width="1.0" stroke-linecap="butt"/>
<line x1="441.2" y1="253.5" x2="445.8" y2="253.5" stroke="#505050" stroke-width="1.0" stroke-linecap="butt"/>
<line x1="441.2" y1="275.5" x2="445.8" y2="275.5" stroke="#505050" stroke-width="1.0" stroke-linecap="butt"/>
<line x1="493.5" y1="267.5" x2="493.5" y2="281.5" stroke="#707070" stroke-width="1.0" stroke-linecap="butt"/>
<line x1="491.2" y1="267.5" x2="495.8" y2="267.5" stroke="#505050" stroke-width="1.0" stroke-linecap="butt"/>
<line x1="491.2" y1="281.5" x2="495.8" y2="281.5" stroke="#505050" stroke-width="1.0" stroke-linecap="butt"/>
<polyline points="342.9,299.6 393,257 443,229.5 493.2,251" fill="none" stroke="#000" stroke-width="1.8" stroke-linejoin="miter"/>
<polyline points="342.9,299.6 393,281 443.3,264.4 493.4,274.7" fill="none" stroke="#000" stroke-width="1.8" stroke-linejoin="miter"/>
<rect x="340" y="297" width="5" height="5" fill="#000"/>
<rect x="390" y="278" width="5" height="5" fill="#000"/>
<rect x="441" y="262" width="5" height="5" fill="#000"/>
<rect x="491" y="272" width="5" height="5" fill="#000"/>
<polygon points="443.40,205.60 444.05,207.21 445.78,207.33 444.45,208.44 444.87,210.12 443.40,209.20 441.93,210.12 442.35,208.44 441.02,207.33 442.75,207.21" fill="#000"/>
<polygon points="490.50,233.70 491.15,235.31 492.88,235.43 491.55,236.54 491.97,238.22 490.50,237.30 489.03,238.22 489.45,236.54 488.12,235.43 489.85,235.31" fill="#000"/>
<polygon points="495.50,233.70 496.15,235.31 497.88,235.43 496.55,236.54 496.97,238.22 495.50,237.30 494.03,238.22 494.45,236.54 493.12,235.43 494.85,235.31" fill="#000"/>
</svg>
</body></html>
